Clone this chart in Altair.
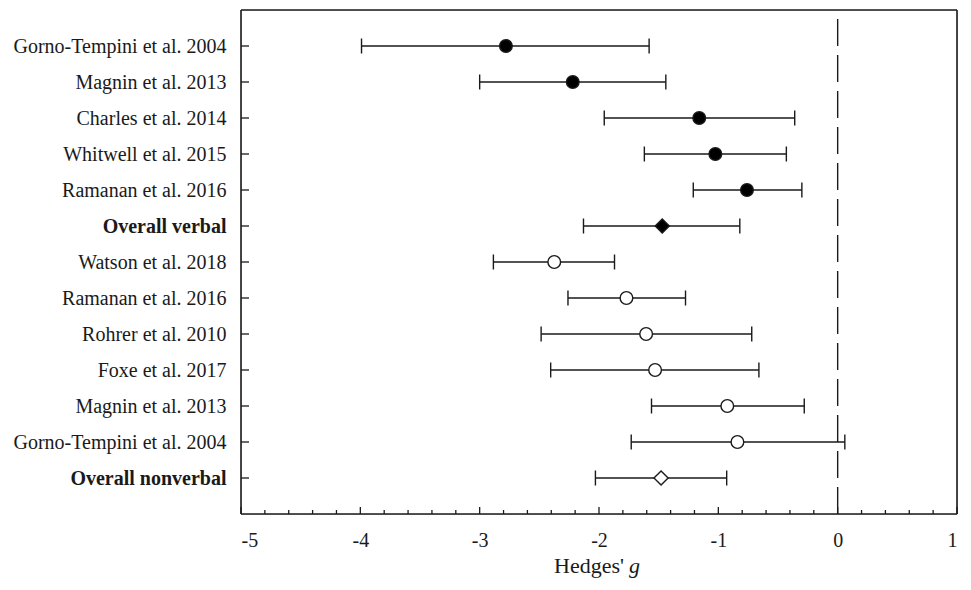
import altair as alt
import pandas as pd

names = ["Gorno-Tempini et al. 2004", "Magnin et al. 2013", "Charles et al. 2014",
         "Whitwell et al. 2015", "Ramanan et al. 2016", "Overall verbal",
         "Watson et al. 2018", "Ramanan et al. 2016", "Rohrer et al. 2010",
         "Foxe et al. 2017", "Magnin et al. 2013", "Gorno-Tempini et al. 2004",
         "Overall nonverbal"]
g = [-2.78, -2.22, -1.16, -1.025, -0.76, -1.47, -2.375, -1.77, -1.605, -1.53, -0.925, -0.84, -1.48]
lo = [-3.99, -3.00, -1.956, -1.62, -1.21, -2.13, -2.885, -2.26, -2.485, -2.405, -1.56, -1.73, -2.03]
hi = [-1.58, -1.44, -0.36, -0.43, -0.30, -0.82, -1.87, -1.275, -0.72, -0.66, -0.28, 0.06, -0.93]
shapes = ["circle"] * 5 + ["diamond"] + ["circle"] * 6 + ["diamond"]
fills = ["black"] * 6 + ["white"] * 7
sizes = [160] * 5 + [200] + [160] * 6 + [200]

major_ticks = [-5, -4, -3, -2, -1, 0, 1]
minor_ticks = [-4.8, -4.6, -4.4, -4.2, -3.8, -3.6, -3.4, -3.2, -2.8, -2.6, -2.4, -2.2,
               -1.8, -1.6, -1.4, -1.2, -0.8, -0.6, -0.4, -0.2, 0.2, 0.4, 0.6, 0.8]

W, H = 716, 504
FONT = "Liberation Serif"
INK = "#1a1a1a"

df = pd.DataFrame({"row": list(range(1, len(names) + 1)), "name": names, "g": g,
                   "lo": lo, "hi": hi, "shape": shapes, "fill": fills, "size": sizes})

label_arr = "[" + ",".join('"%s"' % n for n in names) + "]"

xscale = alt.Scale(domain=[-5, 1], nice=False, zero=False)
yscale = alt.Scale(domain=[0, 14], reverse=True, nice=False, zero=False)

base = alt.Chart(df)

bars = base.mark_rule(color=INK, strokeWidth=1.3).encode(
    x=alt.X("lo:Q", scale=xscale,
            axis=alt.Axis(values=major_ticks, ticks=False, domain=False, grid=False,
                          labelFont=FONT, labelFontSize=20, labelColor=INK,
                          labelPadding=16, title=None,
                          labelExpr="'' + datum.value")),
    x2="hi:Q",
    y=alt.Y("row:Q", scale=yscale,
            axis=alt.Axis(values=list(range(1, len(names) + 1)), ticks=False, domain=False,
                          grid=False, labelFont=FONT, labelFontSize=20, labelColor=INK,
                          labelPadding=15, labelLimit=0, title=None,
                          labelExpr=label_arr + "[datum.value-1]",
                          labelFontWeight={"condition": {"test": "datum.value == 6 || datum.value == 13",
                                                         "value": "bold"}, "value": "normal"})),
)

cap_lo = base.mark_tick(orient="vertical", color=INK, thickness=1.4, size=15, opacity=1).encode(
    x=alt.X("lo:Q", scale=xscale), y=alt.Y("row:Q", scale=yscale))
cap_hi = base.mark_tick(orient="vertical", color=INK, thickness=1.4, size=15, opacity=1).encode(
    x=alt.X("hi:Q", scale=xscale), y=alt.Y("row:Q", scale=yscale))

zero_line = alt.Chart(pd.DataFrame({"z": [0]})).mark_rule(
    color=INK, strokeWidth=1.4, strokeDash=[27, 9], strokeDashOffset=27).encode(
    x=alt.X("z:Q", scale=xscale), y=alt.value(0), y2=alt.value(H))

pts = base.mark_point(stroke=INK, strokeWidth=1.4, opacity=1, filled=False).encode(
    x=alt.X("g:Q", scale=xscale), y=alt.Y("row:Q", scale=yscale),
    shape=alt.Shape("shape:N", scale=None),
    fill=alt.Fill("fill:N", scale=None),
    size=alt.Size("size:Q", scale=None),
)

xt_major = alt.Chart(pd.DataFrame({"t": major_ticks})).mark_rule(color=INK, strokeWidth=1.3).encode(
    x=alt.X("t:Q", scale=xscale), y=alt.value(H), y2=alt.value(H - 7))
xt_minor = alt.Chart(pd.DataFrame({"t": minor_ticks})).mark_rule(color=INK, strokeWidth=1.3).encode(
    x=alt.X("t:Q", scale=xscale), y=alt.value(H), y2=alt.value(H - 4))
yt = base.mark_rule(color=INK, strokeWidth=1.3).encode(
    y=alt.Y("row:Q", scale=yscale), x=alt.value(0), x2=alt.value(8))

# plot frame
frame_df = pd.DataFrame({"k": [0]})
f_top = alt.Chart(frame_df).mark_rule(color=INK, strokeWidth=1.6).encode(
    x=alt.value(0), x2=alt.value(W), y=alt.value(0))
f_bot = alt.Chart(frame_df).mark_rule(color=INK, strokeWidth=1.6).encode(
    x=alt.value(0), x2=alt.value(W), y=alt.value(H))
f_left = alt.Chart(frame_df).mark_rule(color=INK, strokeWidth=1.6).encode(
    x=alt.value(0), y=alt.value(0), y2=alt.value(H))
f_right = alt.Chart(frame_df).mark_rule(color=INK, strokeWidth=1.6).encode(
    x=alt.value(W), y=alt.value(0), y2=alt.value(H))

t1 = alt.Chart(pd.DataFrame({"s": ["Hedges'"]})).mark_text(
    font=FONT, fontSize=22, color=INK, align="right", baseline="alphabetic").encode(
    text="s:N", x=alt.value(383), y=alt.value(563))
t2 = alt.Chart(pd.DataFrame({"s": ["g"]})).mark_text(
    font=FONT, fontSize=22, color=INK, fontStyle="italic", align="left", baseline="alphabetic").encode(
    text="s:N", x=alt.value(388), y=alt.value(563))

chart = alt.layer(bars, zero_line, cap_lo, cap_hi, pts, xt_major, xt_minor, yt,
                  f_top, f_bot, f_left, f_right, t1, t2).properties(
    width=W, height=H,
    autosize=alt.AutoSizeParams(type="none"),
    padding={"left": 233, "top": 2, "right": 6, "bottom": 68},
).configure_view(stroke=None).configure(background="white")

chart.save("out.html", embed_options={"renderer": "svg", "actions": False})
